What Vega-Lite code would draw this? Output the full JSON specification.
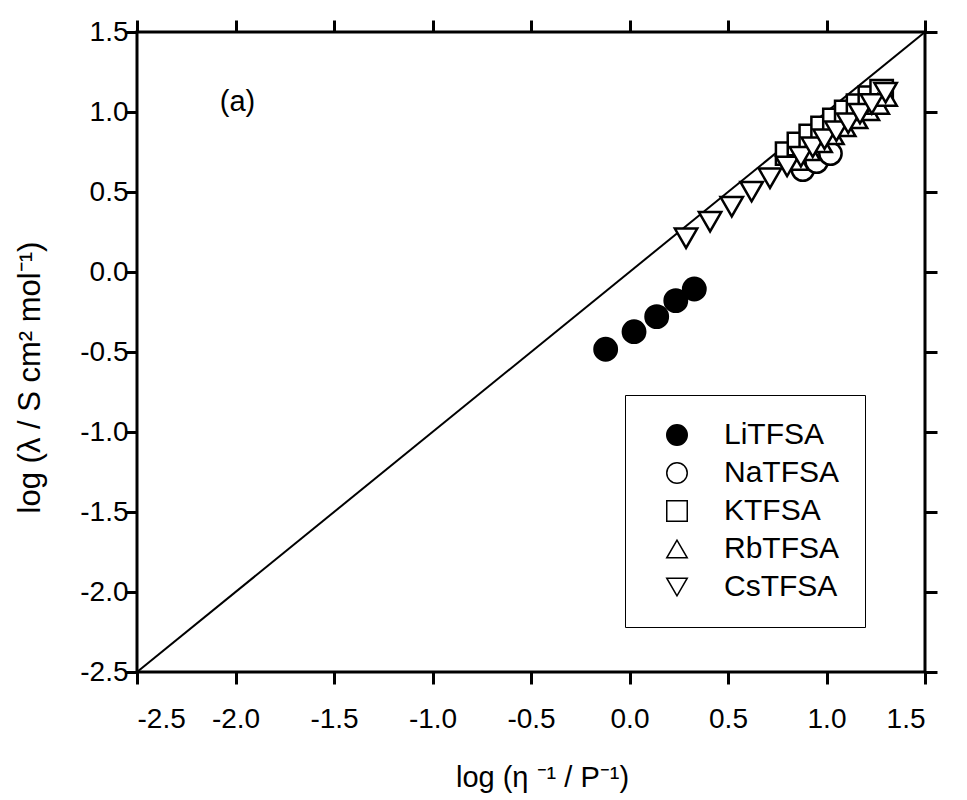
{
  "$schema": "https://vega.github.io/schema/vega-lite/v6.json",
  "width": 788,
  "height": 640,
  "autosize": "none",
  "padding": {"left": 137, "top": 32, "right": 42, "bottom": 128},
  "background": "white",
  "config": {
    "font": "Liberation Sans",
    "view": {"stroke": "black", "strokeWidth": 3}
  },
  "datasets": {
    "pts": [
      {"salt": "LiTFSA", "x": -0.121, "y": -0.483},
      {"salt": "LiTFSA", "x": 0.023, "y": -0.373},
      {"salt": "LiTFSA", "x": 0.138, "y": -0.279},
      {"salt": "LiTFSA", "x": 0.235, "y": -0.179},
      {"salt": "LiTFSA", "x": 0.329, "y": -0.106},
      {"salt": "NaTFSA", "x": 0.88, "y": 0.64},
      {"salt": "NaTFSA", "x": 0.95, "y": 0.69},
      {"salt": "NaTFSA", "x": 1.02, "y": 0.74},
      {"salt": "KTFSA", "x": 0.80, "y": 0.74},
      {"salt": "KTFSA", "x": 0.86, "y": 0.80},
      {"salt": "KTFSA", "x": 0.92, "y": 0.85},
      {"salt": "KTFSA", "x": 0.98, "y": 0.90},
      {"salt": "KTFSA", "x": 1.04, "y": 0.95},
      {"salt": "KTFSA", "x": 1.10, "y": 1.00},
      {"salt": "KTFSA", "x": 1.16, "y": 1.04},
      {"salt": "KTFSA", "x": 1.22, "y": 1.09},
      {"salt": "KTFSA", "x": 1.28, "y": 1.13},
      {"salt": "RbTFSA", "x": 0.85, "y": 0.70},
      {"salt": "RbTFSA", "x": 0.91, "y": 0.76},
      {"salt": "RbTFSA", "x": 0.97, "y": 0.81},
      {"salt": "RbTFSA", "x": 1.03, "y": 0.86},
      {"salt": "RbTFSA", "x": 1.09, "y": 0.91},
      {"salt": "RbTFSA", "x": 1.15, "y": 0.96},
      {"salt": "RbTFSA", "x": 1.21, "y": 1.01},
      {"salt": "RbTFSA", "x": 1.26, "y": 1.05},
      {"salt": "RbTFSA", "x": 1.30, "y": 1.10},
      {"salt": "CsTFSA", "x": 0.287, "y": 0.211},
      {"salt": "CsTFSA", "x": 0.409, "y": 0.314},
      {"salt": "CsTFSA", "x": 0.519, "y": 0.408},
      {"salt": "CsTFSA", "x": 0.620, "y": 0.502},
      {"salt": "CsTFSA", "x": 0.713, "y": 0.586},
      {"salt": "CsTFSA", "x": 0.80, "y": 0.66},
      {"salt": "CsTFSA", "x": 0.87, "y": 0.72},
      {"salt": "CsTFSA", "x": 0.93, "y": 0.78},
      {"salt": "CsTFSA", "x": 0.99, "y": 0.83},
      {"salt": "CsTFSA", "x": 1.05, "y": 0.88},
      {"salt": "CsTFSA", "x": 1.11, "y": 0.93},
      {"salt": "CsTFSA", "x": 1.17, "y": 0.99},
      {"salt": "CsTFSA", "x": 1.23, "y": 1.05},
      {"salt": "CsTFSA", "x": 1.30, "y": 1.12}
    ],
    "diag": [
      {"x": -2.5, "y": -2.5},
      {"x": 1.5, "y": 1.5}
    ],
    "lab": [
      {"x": -1.99, "y": 1.06, "t": "(a)"}
    ]
  },
  "resolve": {"axis": {"x": "independent", "y": "independent"}},
  "layer": [
    {
      "data": {"name": "diag"},
      "mark": {"type": "line", "color": "black", "strokeWidth": 2, "clip": true},
      "encoding": {
        "x": {"field": "x", "type": "quantitative",
          "scale": {"domain": [-2.5, 1.5], "nice": false, "zero": false},
          "axis": {"orient": "bottom", "values": [-2.5, -2, -1.5, -1, -0.5, 0, 0.5, 1, 1.5], "zindex": 1,
            "labelExpr": "replace(format(datum.value, '.1f'), '−', '-')",
            "grid": false, "domain": false, "ticks": true, "tickSize": 12, "tickWidth": 3, "tickColor": "black",
            "encode": {"ticks": {"update": {"y": {"value": 0}, "y2": {"value": -12}}}},
            "labelPadding": 21, "labelFontSize": 28, "labelFont": "Liberation Sans", "labelColor": "black",
            "title": "log (η ⁻¹ / P⁻¹)", "titlePadding": 30, "titleX": 405,
            "titleFontSize": 29, "titleFont": "Liberation Sans", "titleFontWeight": "normal", "titleColor": "black"}},
        "y": {"field": "y", "type": "quantitative",
          "scale": {"domain": [-2.5, 1.5], "nice": false, "zero": false},
          "axis": {"orient": "left", "values": [-2.5, -2, -1.5, -1, -0.5, 0, 0.5, 1, 1.5], "zindex": 1,
            "labelExpr": "replace(format(datum.value, '.1f'), '−', '-')",
            "grid": false, "domain": false, "ticks": true, "tickSize": 12, "tickWidth": 3, "tickColor": "black",
            "encode": {"ticks": {"update": {"x": {"value": 0}, "x2": {"value": 12}}}},
            "labelPadding": -3, "labelFontSize": 28, "labelFont": "Liberation Sans", "labelColor": "black",
            "title": "log (λ / S cm² mol⁻¹)", "titlePadding": 33, "titleY": 345,
            "titleFontSize": 31, "titleFont": "Liberation Sans", "titleFontWeight": "normal", "titleColor": "black"}}
      }
    },
    {
      "data": {"name": "lab"},
      "mark": {"type": "text", "fontSize": 29, "font": "Liberation Sans", "color": "black"},
      "encoding": {
        "x": {"field": "x", "type": "quantitative",
          "axis": {"orient": "top", "values": [-2.5, -2, -1.5, -1, -0.5, 0, 0.5, 1, 1.5], "labels": false, "title": null, "zindex": 1,
            "grid": false, "domain": false, "ticks": true, "tickSize": 12, "tickWidth": 3, "tickColor": "black",
            "encode": {"ticks": {"update": {"y": {"value": 0}, "y2": {"value": 12}}}}}},
        "y": {"field": "y", "type": "quantitative",
          "axis": {"orient": "right", "values": [-2.5, -2, -1.5, -1, -0.5, 0, 0.5, 1, 1.5], "labels": false, "title": null, "zindex": 1,
            "grid": false, "domain": false, "ticks": true, "tickSize": 12, "tickWidth": 3, "tickColor": "black",
            "encode": {"ticks": {"update": {"x": {"value": 0}, "x2": {"value": -12}}}}}},
        "text": {"field": "t"}
      }
    },
    {
      "data": {"name": "pts"},
      "mark": {"type": "point", "filled": true, "stroke": "black", "strokeWidth": 2.5, "opacity": 1, "size": 500},
      "encoding": {
        "x": {"field": "x", "type": "quantitative", "axis": null},
        "y": {"field": "y", "type": "quantitative", "axis": null},
        "shape": {"field": "salt", "type": "nominal",
          "scale": {"domain": ["LiTFSA", "NaTFSA", "KTFSA", "RbTFSA", "CsTFSA"],
            "range": ["circle", "circle", "square", "triangle-up", "triangle-down"]},
          "legend": {"title": null, "orient": "none", "legendX": 488, "legendY": 363,
            "strokeColor": "black", "padding": 25, "symbolOffset": 12,
            "symbolSize": 420,
            "labelFontSize": 30, "labelFont": "Liberation Sans", "labelColor": "black", "labelOffset": 32,
            "rowPadding": 8,
            "encode": {"legend": {"update": {"strokeWidth": {"value": 3}}},
              "symbols": {"update": {"stroke": {"value": "black"}, "strokeWidth": {"value": 2.5}}}}}},
        "fill": {"field": "salt", "type": "nominal",
          "scale": {"domain": ["LiTFSA", "NaTFSA", "KTFSA", "RbTFSA", "CsTFSA"],
            "range": ["black", "white", "white", "white", "white"]},
          "legend": {"title": null, "orient": "none", "legendX": 488, "legendY": 363,
            "strokeColor": "black", "padding": 25, "symbolOffset": 12,
            "symbolSize": 420,
            "labelFontSize": 30, "labelFont": "Liberation Sans", "labelColor": "black", "labelOffset": 32,
            "rowPadding": 8,
            "encode": {"legend": {"update": {"strokeWidth": {"value": 3}}},
              "symbols": {"update": {"stroke": {"value": "black"}, "strokeWidth": {"value": 2.5}}}}}}
      }
    }
  ]
}
